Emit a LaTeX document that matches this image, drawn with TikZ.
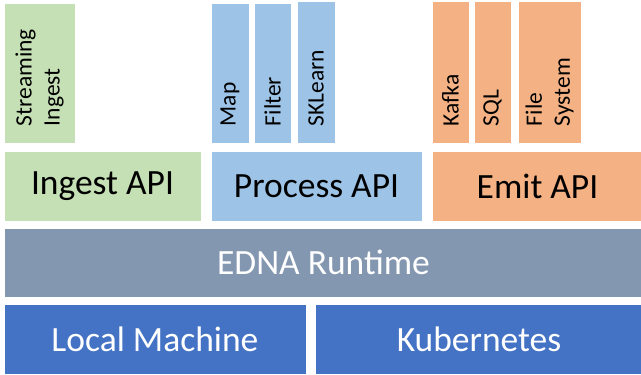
\documentclass[tikz,border=0pt]{standalone}
\usepackage{fontspec}
\setmainfont{Carlito}
\definecolor{ingestgreen}{HTML}{C5E0B4}
\definecolor{processblue}{HTML}{9DC3E6}
\definecolor{emitorange}{HTML}{F4B183}
\definecolor{runtimegray}{HTML}{8497B0}
\definecolor{hostblue}{HTML}{4472C4}
\tikzset{block/.style = {rectangle, inner sep=0pt, draw=white, line width=0.6pt},
         apilabel/.style = {font=\fontsize{35.5}{40}\selectfont},
         toollabel/.style = {font=\fontsize{23.5}{28}\selectfont, rotate=90,
                             anchor=west, align=left, inner sep=0pt}}

\begin{document}
\begin{tikzpicture}[x=1pt, y=-1pt]
\useasboundingbox (0,0) rectangle (641,375);
% top row: tools
\node[block, fill=ingestgreen, minimum width=71, minimum height=140] (stream) at (39.5,73) {};
\node[block, fill=processblue, minimum width=38, minimum height=140] (map) at (230,73) {};
\node[block, fill=processblue, minimum width=37, minimum height=140] (filter) at (272.5,73) {};
\node[block, fill=processblue, minimum width=38, minimum height=142] (sklearn) at (316,72) {};
\node[block, fill=emitorange, minimum width=37, minimum height=142] (kafka) at (450.5,72) {};
\node[block, fill=emitorange, minimum width=37, minimum height=142] (sql) at (492.5,72) {};
\node[block, fill=emitorange, minimum width=63, minimum height=142] (filesys) at (549.5,72) {};
\node[toollabel] (streamtxt) at ([yshift=17pt]stream.south) {Streaming\\Ingest};
\node[toollabel] (maptxt) at ([yshift=17pt]map.south) {Map};
\node[toollabel] (filtertxt) at ([yshift=17pt]filter.south) {Filter};
\node[toollabel] (sklearntxt) at ([yshift=17pt]sklearn.south) {SKLearn};
\node[toollabel] (kafkatxt) at ([yshift=17pt]kafka.south) {Kafka};
\node[toollabel] (sqltxt) at ([yshift=17pt]sql.south) {SQL};
\node[toollabel] (filesystxt) at ([yshift=17pt]filesys.south) {File\\System};
% API row
\node[block, fill=ingestgreen, minimum width=197, minimum height=70] (ingest) at (102.5,186) {};
\node[block, fill=processblue, minimum width=211, minimum height=70] (process) at (316.5,186) {};
\node[block, fill=emitorange, minimum width=211, minimum height=70] (emit) at (537.5,186) {};
\node[apilabel] (ingesttxt) at (ingest) {Ingest API};
\node[apilabel] (processtxt) at (process) {Process API};
\node[apilabel] (emittxt) at (emit) {Emit API};
% runtime
\node[block, fill=runtimegray, minimum width=639, minimum height=69] (runtime) at (323.5,262.5) {};
\node[apilabel, text=white] (runtimetxt) at (runtime) {EDNA Runtime};
% hosts
\node[block, fill=hostblue, minimum width=302, minimum height=70] (local) at (155,339) {};
\node[block, fill=hostblue, minimum width=328, minimum height=70] (kube) at (479,339) {};
\node[apilabel, text=white] (localtxt) at (local) {Local Machine};
\node[apilabel, text=white] (kubetxt) at (kube) {Kubernetes};
\end{tikzpicture}
\end{document}
